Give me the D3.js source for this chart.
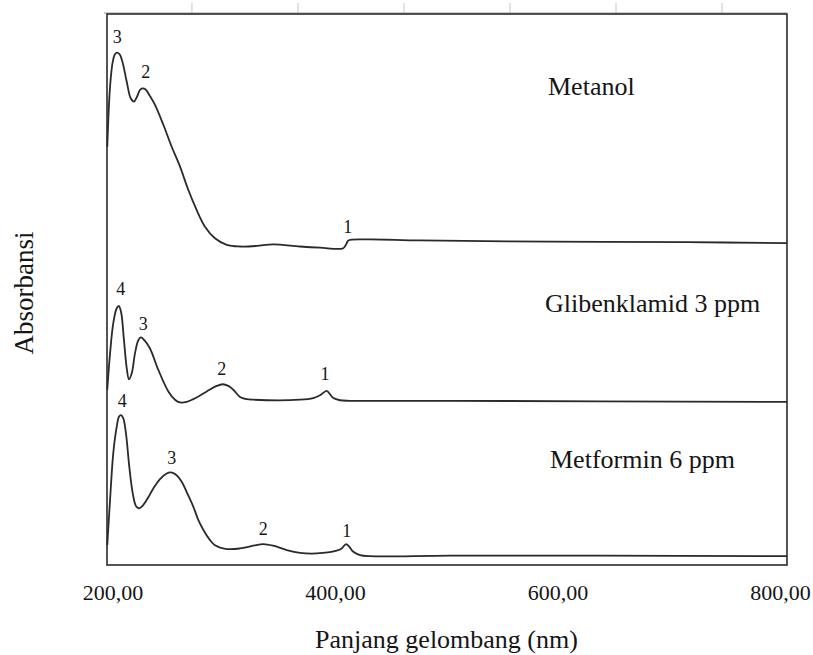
<!DOCTYPE html>
<html>
<head>
<meta charset="utf-8">
<script src="https://cdn.jsdelivr.net/npm/d3@7/dist/d3.min.js"></script>
<style>
  body { margin: 0; background: #fff; }
  text { font-family: "Liberation Serif", "Times New Roman", serif; fill: #151515; }
</style>
</head>
<body>
<div class="chart"></div>
<script>
// spectra (wavelength nm, absorbance in arbitrary stacked units)
var metanolNm  = [195.3, 197.8, 200.2, 202.2, 204.3, 206.7, 209.2, 212.8, 216.4, 219.3, 221.8, 224.7, 226.8, 229.8, 233.7, 238.2, 245.7, 253.2, 260.7, 268.1, 275.7, 283.1, 292.1, 302.7, 314.6, 329.6, 344.5, 368.5, 386.5, 407.5, 410.5, 412.0, 428.5, 476.4, 593.3, 716.4, 806.3];
var metanolAbs = [75.9, 86.8, 91.3, 92.7, 93.0, 92.6, 91.1, 87.7, 84.7, 84.1, 84.9, 86.2, 86.5, 86.3, 85.1, 83.5, 79.9, 75.9, 72.3, 68.1, 64.4, 61.4, 59.3, 58.1, 57.8, 57.9, 58.2, 57.8, 57.6, 57.5, 58.4, 58.9, 59.1, 58.9, 58.7, 58.6, 58.4];

var glibenNm  = [195.3, 197.8, 200.7, 203.8, 205.8, 207.9, 210.3, 212.8, 214.8, 217.3, 220.2, 223.2, 225.6, 228.6, 233.7, 241.2, 250.2, 256.2, 260.7, 266.7, 272.6, 284.7, 293.7, 299.1, 304.1, 308.6, 314.6, 320.6, 326.6, 368.5, 380.5, 386.5, 392.5, 395.5, 398.5, 404.5, 413.5, 503.4, 638.2, 806.3];
var glibenAbs = [31.8, 38.4, 43.9, 46.6, 47.0, 45.7, 40.8, 35.7, 33.7, 34.8, 38.4, 40.8, 41.3, 40.8, 39.3, 35.4, 31.5, 30.0, 29.5, 29.6, 30.1, 31.5, 32.5, 32.8, 32.5, 31.8, 30.5, 30.1, 30.0, 30.0, 30.3, 30.8, 31.6, 31.0, 30.3, 29.9, 29.8, 29.8, 29.7, 29.6];

var metforminNm  = [195.3, 197.8, 200.7, 203.8, 205.8, 207.6, 209.7, 212.1, 215.1, 218.2, 221.1, 223.8, 227.7, 232.2, 236.7, 242.7, 248.7, 252.3, 256.2, 262.2, 267.2, 272.6, 277.1, 281.6, 287.0, 292.1, 302.7, 314.6, 326.6, 335.6, 344.5, 356.6, 368.5, 383.6, 401.5, 406.0, 409.9, 412.9, 416.5, 422.5, 431.5, 503.4, 638.2, 806.3];
var metforminAbs = [3.6, 11.8, 20.3, 25.1, 26.9, 27.2, 26.6, 23.9, 17.8, 13.0, 10.7, 10.3, 10.9, 12.3, 13.9, 15.6, 16.6, 16.8, 16.5, 15.1, 13.0, 10.6, 8.2, 6.4, 4.7, 3.6, 2.9, 3.0, 3.5, 3.8, 3.5, 2.7, 2.2, 2.1, 2.6, 3.0, 3.8, 3.3, 2.4, 1.8, 1.6, 1.7, 1.7, 1.6];

var seriesNames = ["Metanol", "Glibenklamid 3 ppm", "Metformin 6 ppm"];

// peak numbers: [label, nm, abs] at the text baseline
var metanolPeaks   = [["3", 204.3, 94.7], ["2", 229.8, 88.4], ["1", 411.4, 60.3]];
var glibenPeaks    = [["4", 207.4, 49.0], ["3", 227.7, 42.6], ["2", 298.2, 34.5], ["1", 391.0, 33.5]];
var metforminPeaks = [["4", 208.8, 28.7], ["3", 253.2, 18.4], ["2", 335.6, 5.4], ["1", 410.5, 5.1]];

var xTicks = [200, 400, 600, 800];
var rulerTicks = [271.4, 366.7, 462.0, 557.3, 652.6, 747.9];

var width = 813, height = 655;
var plotLeft = 107, plotRight = 787, plotTop = 14, plotBottom = 565;

var svg = d3.select(".chart").append("svg").attr("width", width).attr("height", height);
svg.append("rect").attr("width", width).attr("height", height).attr("fill", "#fff");

var x = d3.scaleLinear().domain([200, 800]).range([112.5, 780]);
var y = d3.scaleLinear().domain([0, 100]).range([plotBottom, plotTop]);

// faint ruler marks above the frame
svg.selectAll(".ruler").data(rulerTicks).enter().append("line")
  .attr("x1", function(d) { return x(d); }).attr("x2", function(d) { return x(d); })
  .attr("y1", 3).attr("y2", plotTop)
  .attr("stroke", "#c9d0e2").attr("stroke-width", 1.2);
svg.append("line").attr("x1", plotLeft - 3).attr("x2", plotRight).attr("y1", plotTop - 1).attr("y2", plotTop - 1)
  .attr("stroke", "#9a9a9a").attr("stroke-width", 1);

svg.append("rect")
  .attr("x", plotLeft).attr("y", plotTop)
  .attr("width", plotRight - plotLeft).attr("height", plotBottom - plotTop)
  .attr("fill", "none").attr("stroke", "#2b2b2b").attr("stroke-width", 1.6);

var line = d3.line()
  .x(function(d) { return x(d[0]); })
  .y(function(d) { return y(d[1]); })
  .curve(d3.curveCatmullRom.alpha(0.5));

var curves = [
  { nm: metanolNm, abs: metanolAbs, peaks: metanolPeaks },
  { nm: glibenNm, abs: glibenAbs, peaks: glibenPeaks },
  { nm: metforminNm, abs: metforminAbs, peaks: metforminPeaks }
];

curves.forEach(function(c) {
  var pts = c.nm.map(function(v, i) { return [v, c.abs[i]]; });
  svg.append("path").datum(pts)
    .attr("d", line)
    .attr("fill", "none")
    .attr("stroke", "#2a2a2a")
    .attr("stroke-width", 1.8)
    .attr("stroke-linejoin", "round");

  svg.selectAll(null).data(c.peaks).enter().append("text")
    .attr("x", function(d) { return x(d[1]); })
    .attr("y", function(d) { return y(d[2]); })
    .attr("text-anchor", "middle")
    .style("font-size", "18px")
    .text(function(d) { return d[0]; });
});

// series names
var namePos = [[548, 95], [545, 312], [550, 468]];
svg.selectAll(".name").data(seriesNames).enter().append("text")
  .attr("x", function(d, i) { return namePos[i][0]; })
  .attr("y", function(d, i) { return namePos[i][1]; })
  .style("font-size", "26px")
  .text(function(d) { return d; });

// bottom axis, labels only
var axis = d3.axisBottom(x)
  .tickValues(xTicks)
  .tickSize(0)
  .tickFormat(function(d) { return d3.format(".2f")(d).replace(".", ","); });

var ax = svg.append("g").attr("transform", "translate(0," + plotBottom + ")").call(axis);
ax.select(".domain").remove();
ax.selectAll("text")
  .attr("y", 35).attr("dy", null)
  .style("font-size", "22px")
  .style("font-family", "'Liberation Serif', 'Times New Roman', serif")
  .attr("fill", "#151515");

svg.append("text")
  .attr("x", 446.5).attr("y", 648)
  .attr("text-anchor", "middle")
  .style("font-size", "26px")
  .text("Panjang gelombang (nm)");

svg.append("text")
  .attr("transform", "translate(33,293) rotate(-90)")
  .attr("text-anchor", "middle")
  .style("font-size", "27px")
  .text("Absorbansi");
</script>
</body>
</html>
